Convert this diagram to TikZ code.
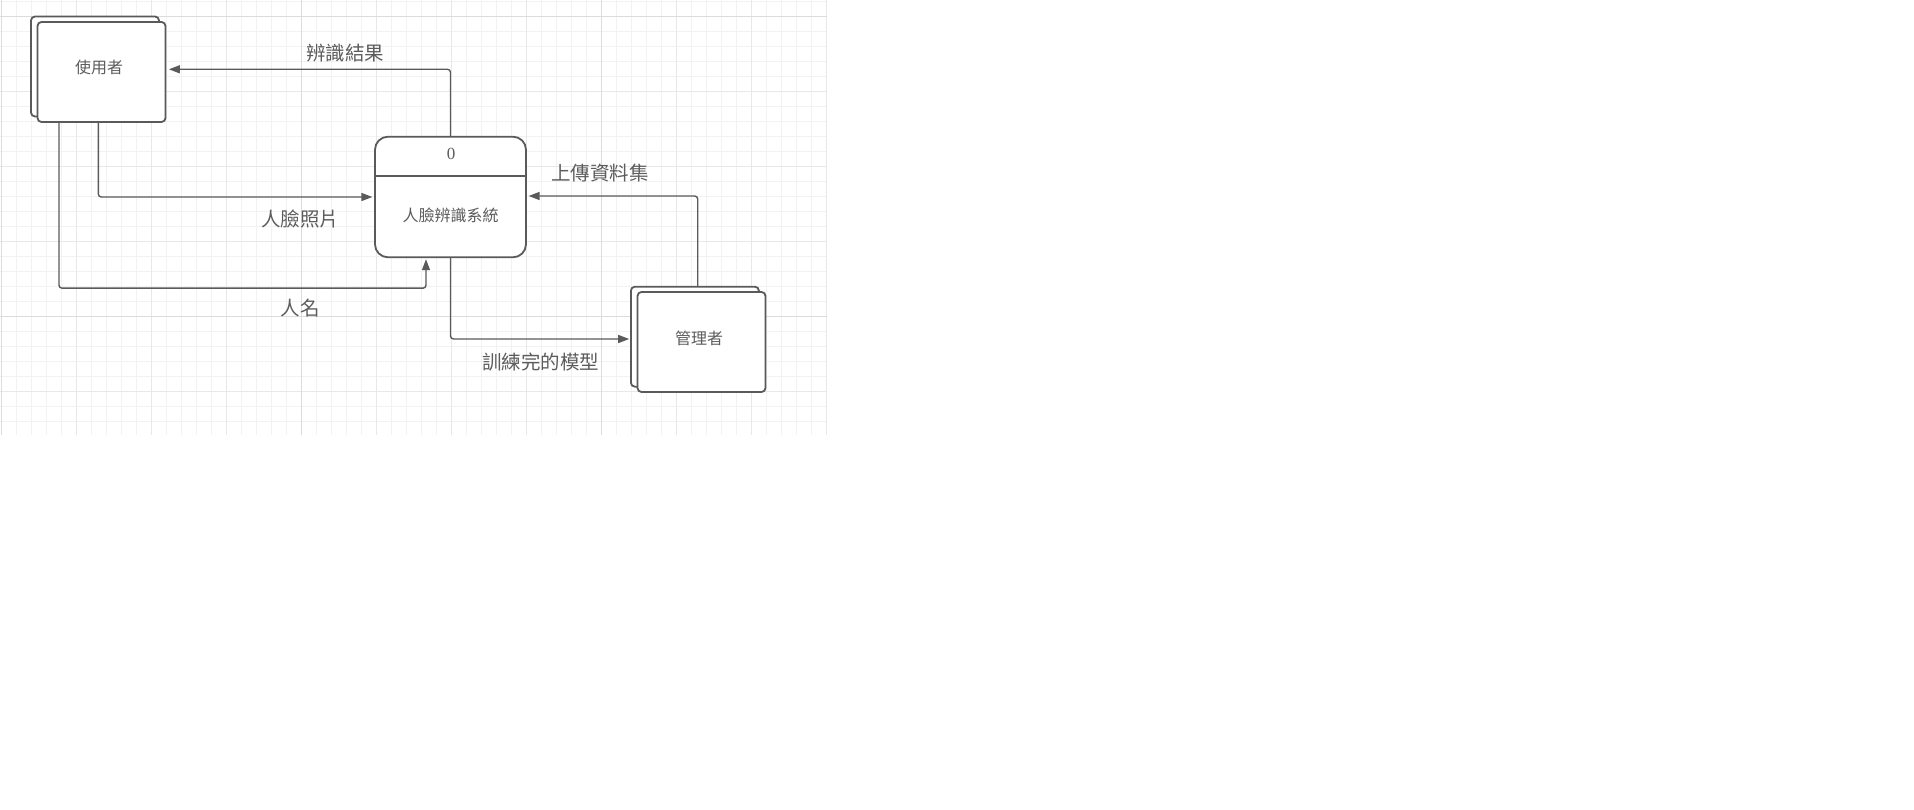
\documentclass[tikz,border=0pt]{standalone}
\usepackage{fontspec}
\setmainfont{Liberation Serif}
\newfontfamily\cjk{Noto Sans CJK TC}
\usetikzlibrary{arrows.meta}
\definecolor{ink}{HTML}{5A5A5A}
\definecolor{txt}{HTML}{5C5C5C}
\definecolor{gminor}{HTML}{F2F2F2}
\definecolor{gmid}{HTML}{E8E8E8}
\definecolor{gmajor}{HTML}{DCDCDC}
\begin{document}
\begin{tikzpicture}[x=1pt,y=-1pt,
  entity/.style={draw=ink, line width=1.8pt, fill=white, rounded corners=4pt,
    minimum width=128pt, minimum height=100pt, inner sep=0pt},
  etext/.style={font=\cjk\fontsize{16}{16}\selectfont, text=txt, inner sep=0pt},
  procbox/.style={draw=ink, line width=1.8pt, fill=white, rounded corners=13pt,
    minimum width=151pt, minimum height=120.6pt, inner sep=0pt},
  lbl/.style={font=\cjk\fontsize{19.5}{19.5}\selectfont, text=txt, inner sep=0pt},
  flow/.style={draw=ink, line width=1.4pt, rounded corners=3pt,
    -{Triangle[length=11pt,width=8pt]}}]
\useasboundingbox (0,0) rectangle (1914,810);
\fill[white] (0,0) rectangle (1914,810);

% background grid
\foreach \i in {0,...,55} \draw[gminor, line width=1pt] ({1.7+15*\i},0) -- ++(0,435);
\foreach \j in {0,...,28} \draw[gminor, line width=1pt] (0,{1.7+15*\j}) -- ++(827,0);
\foreach \i in {0,...,11} \draw[gmid, line width=1pt] ({1.7+75*\i},0) -- ++(0,435);
\foreach \j in {0,...,5} \draw[gmid, line width=1pt] (0,{16.7+75*\j}) -- ++(827,0);
\foreach \x in {1.7,301.7,601.7} \draw[gmajor, line width=1pt] (\x,0) -- ++(0,435);
\foreach \y in {16.7,316.7} \draw[gmajor, line width=1pt] (0,\y) -- ++(827,0);

% external entities (stacked boxes)
\node[entity] (ub) at (95,66.5) {};
\node[entity] (u) at (101.5,72) {};
\node[etext] (ut) at (99,67.5) {使用者};
\node[entity] (mb) at (694.9,336.7) {};
\node[entity] (m) at (701.5,342) {};
\node[etext] (mt) at (699,338) {管理者};

% process
\node[procbox] (p) at (450.5,197) {};
\draw[ink, line width=1.8pt] (p.west |- 0,175.7) -- (p.east |- 0,175.7);
\node[inner sep=0pt, text=txt, font=\fontsize{17}{17}\selectfont] (p0) at (451,154.3) {0};
\node[etext] (pn) at (450.5,215) {人臉辨識系統};

% data flows
\draw[flow] (p.north) |- ([xshift=2.5pt,yshift=2.7pt]u.east);
\draw[flow] ([xshift=-3.2pt]u.south) |- ([xshift=-1.7pt]p.west);
\draw[flow] ([xshift=-42.5pt]u.south) |- ([xshift=-24.5pt,yshift=-30pt]p.south)
  -- ([xshift=-24.5pt,yshift=-1pt]p.south);
\draw[flow] ([xshift=2.8pt]mb.north) |- ([xshift=1.7pt,yshift=1pt]p.east);
\draw[flow] (p.south) |- ([xshift=-0.8pt,yshift=-2.3pt]mb.west);

% flow labels
\node[lbl] (l1) at (345,53) {辨識結果};
\node[lbl] (l2) at (300,219) {人臉照片};
\node[lbl] (l3) at (300,308.3) {人名};
\node[lbl] (l4) at (600,173.3) {上傳資料集};
\node[lbl] (l5) at (540.7,362.3) {訓練完的模型};
\end{tikzpicture}
\end{document}
